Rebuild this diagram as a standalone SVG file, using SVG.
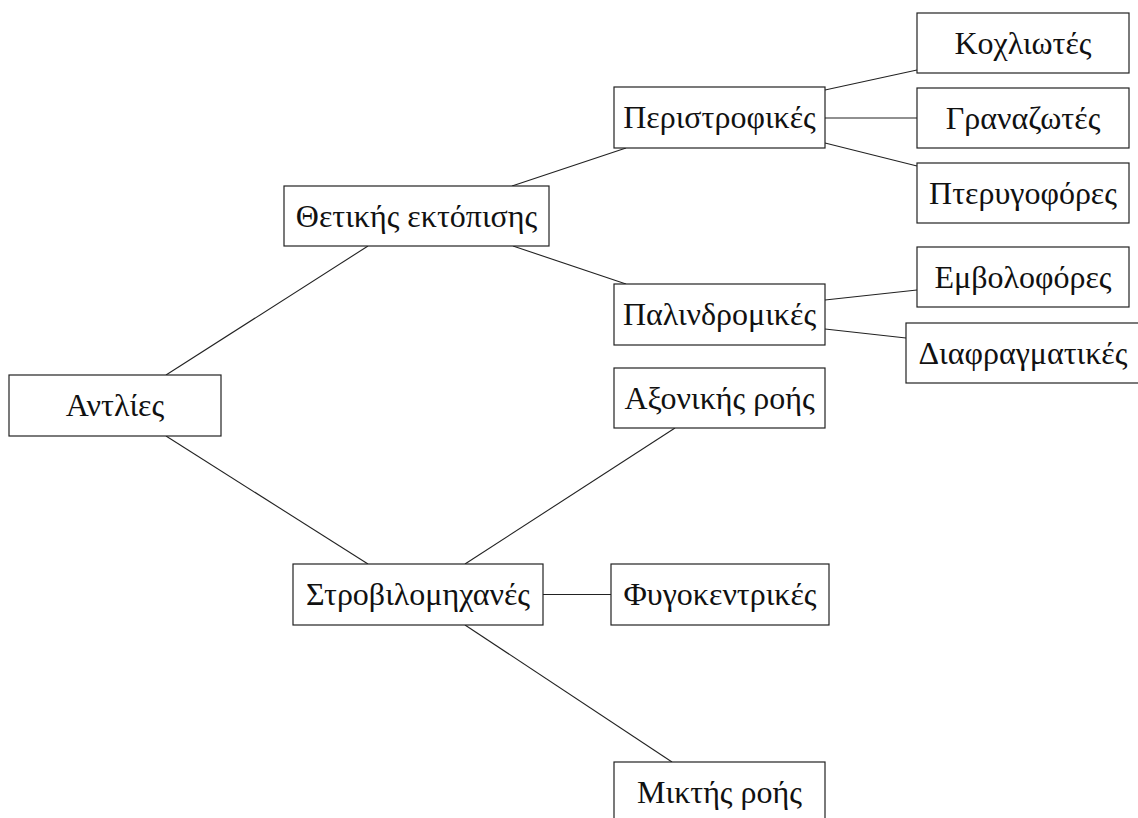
<svg xmlns="http://www.w3.org/2000/svg" width="1138" height="818" viewBox="0 0 1138 818">
<style>
.box{fill:#fff;stroke:#222;stroke-width:1.2}
.lbl{font-family:"Liberation Serif","DejaVu Serif",serif;font-size:32px;fill:#111;text-anchor:middle}
.edge{stroke:#222;stroke-width:1.1;fill:none}
</style>
<rect width="1138" height="818" fill="#fff"/>
<g id="connectors">
<line class="edge" x1="166" y1="375" x2="368" y2="246"/>
<line class="edge" x1="166" y1="436" x2="368" y2="564"/>
<line class="edge" x1="512" y1="186" x2="626" y2="148"/>
<line class="edge" x1="513" y1="246" x2="626" y2="284"/>
<line class="edge" x1="825" y1="90" x2="917" y2="70"/>
<line class="edge" x1="825" y1="118" x2="917" y2="118"/>
<line class="edge" x1="825" y1="143" x2="917" y2="166"/>
<line class="edge" x1="825" y1="300" x2="917" y2="290"/>
<line class="edge" x1="825" y1="329" x2="906" y2="338"/>
<line class="edge" x1="465" y1="564" x2="675" y2="428"/>
<line class="edge" x1="543" y1="594.5" x2="611" y2="594.5"/>
<line class="edge" x1="465" y1="625" x2="672" y2="762"/>
</g>
<g id="n-antlies"><rect class="box" x="9" y="375" width="212" height="61"/><text class="lbl" x="115" y="416">Αντλίες</text></g>
<g id="n-thetikis"><rect class="box" x="284" y="186" width="265" height="60"/><text class="lbl" x="416.5" y="227">Θετικής εκτόπισης</text></g>
<g id="n-strovilo"><rect class="box" x="293" y="564" width="250" height="61"/><text class="lbl" x="418" y="605">Στροβιλομηχανές</text></g>
<g id="n-peristrofikes"><rect class="box" x="614" y="87" width="211" height="61"/><text class="lbl" x="719.5" y="128">Περιστροφικές</text></g>
<g id="n-palindromikes"><rect class="box" x="614" y="284" width="211" height="61"/><text class="lbl" x="719.5" y="325">Παλινδρομικές</text></g>
<g id="n-axonikis"><rect class="box" x="614" y="368" width="211" height="60"/><text class="lbl" x="719.5" y="409">Αξονικής ροής</text></g>
<g id="n-fygokentrikes"><rect class="box" x="611" y="564" width="218" height="61"/><text class="lbl" x="720" y="605">Φυγοκεντρικές</text></g>
<g id="n-miktis"><rect class="box" x="614" y="762" width="211" height="61"/><text class="lbl" x="719.5" y="803">Μικτής ροής</text></g>
<g id="n-kochliotes"><rect class="box" x="917" y="13" width="212" height="60"/><text class="lbl" x="1023" y="54">Κοχλιωτές</text></g>
<g id="n-granazotes"><rect class="box" x="917" y="88" width="212" height="60"/><text class="lbl" x="1023" y="129">Γραναζωτές</text></g>
<g id="n-pterygofores"><rect class="box" x="917" y="163" width="212" height="60"/><text class="lbl" x="1023" y="204">Πτερυγοφόρες</text></g>
<g id="n-emvolofores"><rect class="box" x="917" y="247" width="212" height="60"/><text class="lbl" x="1023" y="288">Εμβολοφόρες</text></g>
<g id="n-diafragmatikes"><rect class="box" x="906" y="323" width="236" height="60"/><text class="lbl" x="1023" y="364">Διαφραγματικές</text></g>
</svg>
